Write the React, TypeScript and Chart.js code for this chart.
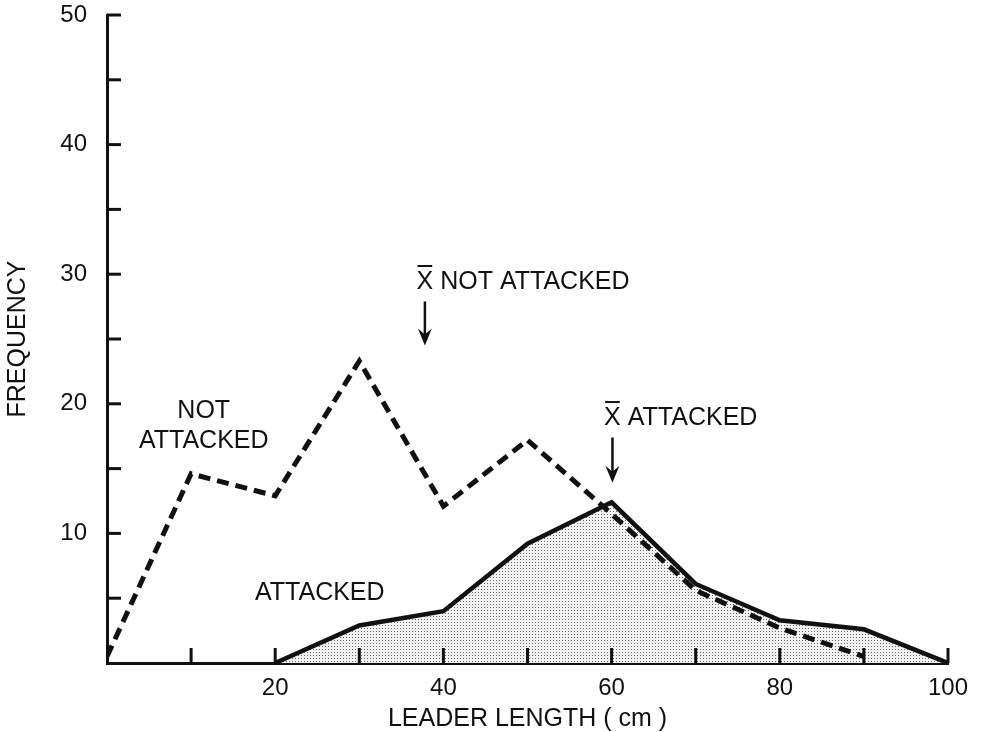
import React, { useEffect, useRef } from "react";
import { Chart, registerables } from "chart.js";

Chart.register(...registerables);

// ---- data ----
const xValues = [0, 10, 20, 30, 40, 50, 60, 70, 80, 90, 100];
const notAttacked = [0.5, 14.6, 12.9, 23.3, 12.1, 17.2, 11.5, 5.6, 2.7, 0.5, null];
const attacked = [null, null, 0, 2.9, 4.0, 9.2, 12.4, 6.1, 3.3, 2.6, 0];

const yLabelTicks = [10, 20, 30, 40, 50];
const yMinorTicks = [5, 10, 15, 20, 25, 30, 35, 40, 45, 50];
const xLabelTicks = [20, 40, 60, 80, 100];
const xMinorTicks = [10, 20, 30, 40, 50, 60, 70, 80, 90, 100];

const xTitle = "LEADER LENGTH ( cm )";
const yTitle = "FREQUENCY";

// plain text labels: [text, x, y]
const textLabels: [string, number, number][] = [
  ["NOT", 11.5, 19.4],
  ["ATTACKED", 11.5, 17.1],
  ["ATTACKED", 25.3, 5.4],
];

// mean markers: [label, x, textY, arrowTopY, arrowTipY]
const meanMarkers: [string, number, number, number, number][] = [
  [" NOT ATTACKED", 37.8, 29.4, 27.9, 24.5],
  [" ATTACKED", 60.1, 18.9, 17.4, 13.9],
];

const FONT = '"Liberation Sans", Arial, Helvetica, sans-serif';
const INK = "#111";

const annotationPlugin = {
  id: "annotations",
  afterDraw(chart: any) {
    const { ctx, scales } = chart;
    const xs = scales.x;
    const ys = scales.y;
    ctx.save();
    ctx.strokeStyle = INK;
    ctx.fillStyle = INK;
    ctx.lineWidth = 3;
    ctx.lineCap = "butt";
    const x0 = xs.getPixelForValue(0);
    const y0 = ys.getPixelForValue(0);
    yMinorTicks.forEach((v) => {
      const py = ys.getPixelForValue(v);
      ctx.beginPath();
      ctx.moveTo(x0, py);
      ctx.lineTo(x0 + 14, py);
      ctx.stroke();
    });
    xMinorTicks.forEach((v) => {
      const px = xs.getPixelForValue(v);
      ctx.beginPath();
      ctx.moveTo(px, y0);
      ctx.lineTo(px, y0 - 15);
      ctx.stroke();
    });
    ctx.font = `25px ${FONT}`;
    ctx.textAlign = "center";
    ctx.textBaseline = "middle";
    textLabels.forEach(([t, x, y]) => {
      ctx.fillText(t, xs.getPixelForValue(x), ys.getPixelForValue(y));
    });
    meanMarkers.forEach(([t, x, ty, at, ab]) => {
      const px = xs.getPixelForValue(x);
      const py = ys.getPixelForValue(ty);
      const xw = ctx.measureText("X").width;
      ctx.textAlign = "center";
      ctx.fillText("X", px, py);
      ctx.textAlign = "left";
      ctx.fillText(t, px + xw / 2, py);
      ctx.lineWidth = 2;
      ctx.beginPath();
      ctx.moveTo(px - xw / 2 + 1, py - 16);
      ctx.lineTo(px + xw / 2 - 1, py - 16);
      ctx.stroke();
      const top = ys.getPixelForValue(at);
      const tip = ys.getPixelForValue(ab);
      ctx.lineWidth = 2.5;
      ctx.beginPath();
      ctx.moveTo(px, top);
      ctx.lineTo(px, tip - 10);
      ctx.stroke();
      ctx.beginPath();
      ctx.moveTo(px, tip);
      ctx.lineTo(px - 7, tip - 17);
      ctx.lineTo(px, tip - 11);
      ctx.lineTo(px + 7, tip - 17);
      ctx.closePath();
      ctx.fill();
    });
    ctx.restore();
  },
};

function makePattern(): CanvasPattern | string {
  const c = document.createElement("canvas");
  c.width = 3;
  c.height = 3;
  const g = c.getContext("2d");
  if (!g) return "#e2e2e2";
  g.fillStyle = "#f2f2f2";
  g.fillRect(0, 0, 3, 3);
  g.fillStyle = "#666";
  g.fillRect(1, 1, 1, 1);
  const p = g.createPattern(c, "repeat");
  return p || "#e2e2e2";
}

export default function App() {
  const ref = useRef<HTMLCanvasElement>(null);
  useEffect(() => {
    if (!ref.current) return;
    const pattern = makePattern();
    const chart = new Chart(ref.current, {
      type: "line",
      data: {
        datasets: [
          {
            label: "ATTACKED",
            data: xValues.map((x, i) => ({ x, y: attacked[i] })),
            borderColor: INK,
            borderWidth: 4.5,
            backgroundColor: pattern as any,
            fill: "origin",
            pointRadius: 0,
            tension: 0,
            spanGaps: false,
          },
          {
            label: "NOT ATTACKED",
            data: xValues.map((x, i) => ({ x, y: notAttacked[i] })),
            borderColor: INK,
            borderWidth: 5,
            borderDash: [12, 7],
            fill: false,
            pointRadius: 0,
            tension: 0,
            spanGaps: false,
          },
        ],
      },
      options: {
        animation: false,
        responsive: true,
        maintainAspectRatio: false,
        layout: { padding: { top: 15, right: 38, left: 0, bottom: 0 } },
        plugins: {
          legend: { display: false },
          tooltip: { enabled: false },
          filler: { drawTime: "beforeDatasetsDraw" },
        },
        scales: {
          x: {
            type: "linear",
            min: 0,
            max: 100,
            grid: { display: false, drawTicks: false },
            border: { display: true, color: INK, width: 3 },
            afterBuildTicks: (s: any) => {
              s.ticks = xLabelTicks.map((v) => ({ value: v }));
            },
            ticks: {
              color: INK,
              font: { family: FONT, size: 24 },
              padding: 11,
              maxRotation: 0,
              autoSkip: false,
            },
            title: {
              display: true,
              text: xTitle,
              color: INK,
              font: { family: FONT, size: 25, lineHeight: 1 },
              padding: { top: 0, bottom: 0 },
            },
            afterFit: (s: any) => {
              s.height = 69;
              s.paddingLeft = 0;
              s.paddingRight = 0;
            },
          },
          y: {
            type: "linear",
            min: 0,
            max: 50,
            grid: { display: false, drawTicks: false },
            border: { display: true, color: INK, width: 3 },
            afterBuildTicks: (s: any) => {
              s.ticks = yLabelTicks.map((v) => ({ value: v }));
            },
            ticks: {
              color: INK,
              font: { family: FONT, size: 24 },
              padding: 20,
              autoSkip: false,
            },
            title: {
              display: true,
              text: yTitle,
              color: INK,
              font: { family: FONT, size: 25, lineHeight: 1 },
              padding: { top: 6, bottom: 0 },
            },
            afterFit: (s: any) => {
              s.width = 107;
              s.paddingTop = 0;
              s.paddingBottom = 0;
            },
          },
        },
      },
      plugins: [annotationPlugin],
    });
    return () => chart.destroy();
  }, []);
  return (
    <div style={{ position: "fixed", left: 0, top: 0, width: 986, height: 732, background: "#fff" }}>
      <canvas ref={ref} />
    </div>
  );
}
